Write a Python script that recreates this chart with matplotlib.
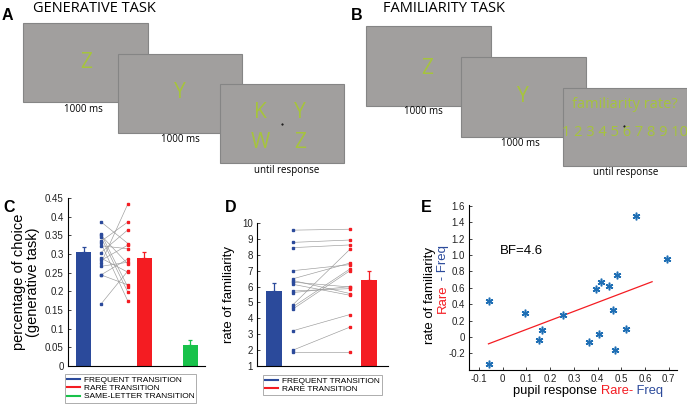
import numpy as np
import matplotlib
matplotlib.use("Agg")
import matplotlib.pyplot as plt
from matplotlib.patches import Rectangle
from matplotlib.lines import Line2D

plt.rcParams['font.family'] = ['Liberation Sans', 'DejaVu Sans']

# Couleurs
BLEU = '#2b4a9b'
ROUGE = '#f41c22'
VERT = '#18c24a'
BLEU_E = '#1f6fb5'
GRIS_ECRAN = '#a19f9e'
LETTRE = '#a6c43c'
POLICE_SCHEMA = ['Open Sans', 'DejaVu Sans']

# Panel C : pourcentage de choix (tache generative)
c_labels = ['FREQUENT TRANSITION', 'RARE TRANSITION', 'SAME-LETTER TRANSITION']
c_moy = [0.305, 0.289, 0.055]
c_err = [0.013, 0.016, 0.015]
c_freq = [0.386, 0.354, 0.350, 0.345, 0.334, 0.329, 0.322, 0.304,
          0.289, 0.283, 0.275, 0.267, 0.244, 0.244, 0.166]
c_rare = [0.328, 0.211, 0.273, 0.197, 0.386, 0.173, 0.314, 0.365,
          0.251, 0.324, 0.435, 0.278, 0.287, 0.217, 0.255]

# Panel D : taux de familiarite
d_labels = ['FREQUENT TRANSITION', 'RARE TRANSITION']
d_moy = [5.75, 6.44]
d_err = [0.50, 0.52]
d_freq = [9.55, 8.78, 8.45, 7.00, 6.49, 6.38, 6.28, 6.14,
          5.72, 5.62, 4.86, 4.73, 4.59, 3.22, 2.00, 1.90]
d_rare = [9.61, 8.93, 8.62, 7.38, 7.48, 5.56, 5.97, 5.45,
          5.87, 6.00, 8.35, 7.11, 7.00, 4.24, 3.45, 1.90]

# Panel E : pupille vs familiarite (Rare - Freq)
e_pupil = [-0.059, -0.059, 0.095, 0.167, 0.152, 0.255, 0.363, 0.392, 0.405,
           0.415, 0.447, 0.464, 0.473, 0.481, 0.521, 0.563, 0.691]
e_fam = [0.44, -0.33, 0.294, 0.09, -0.033, 0.27, -0.06, 0.59, 0.04,
         0.67, 0.62, 0.327, -0.163, 0.75, 0.094, 1.47, 0.947]
e_fit_x = [-0.06, 0.63]

W, H = 687, 405
fig = plt.figure(figsize=(6.87, 4.05), dpi=100)


# Conversion pixels -> coordonnees figure
def boite(x0, y0, x1, y1):
    return [x0 / W, 1 - y1 / H, (x1 - x0) / W, (y1 - y0) / H]


# Axe de fond pour les schemas A et B
fond = fig.add_axes([0, 0, 1, 1])
fond.set_xlim(0, W)
fond.set_ylim(H, 0)
fond.axis('off')


def ecran(x0, y0, x1, y1):
    fond.add_patch(Rectangle((x0, y0), x1 - x0, y1 - y0, facecolor=GRIS_ECRAN,
                             edgecolor='#858585', linewidth=0.8))


def lettre(x, y, s, taille=15):
    fond.text(x, y, s, color=LETTRE, fontsize=taille, ha='center', va='center',
              family=POLICE_SCHEMA, fontweight='medium')


def legende(x, y, s):
    fond.text(x, y, s, fontsize=7, ha='center', va='center', family=POLICE_SCHEMA)


# Panel A
fond.text(7, 15, 'A', fontsize=11.5, fontweight='bold', ha='center', va='center')
fond.text(33, 9, 'GENERATIVE TASK', fontsize=10.5, ha='left', va='center',
          family=POLICE_SCHEMA)
ecran(23, 23, 148, 102)
ecran(118, 54, 242, 133)
ecran(220, 84, 344, 163)
lettre(86, 63, 'Z')
lettre(180, 92, 'Y')
lettre(260, 113, 'K')
lettre(300, 113, 'Y')
lettre(260, 142, 'W')
lettre(300, 142, 'Z')
fond.plot([282], [124], marker='.', color='k', markersize=1)
legende(83, 109, '1000 ms')
legende(180, 140, '1000 ms')
legende(287, 171, 'until response')

# Panel B
fond.text(357, 15, 'B', fontsize=11.5, fontweight='bold', ha='center', va='center')
fond.text(383, 9, 'FAMILIARITY TASK', fontsize=10.5, ha='left', va='center',
          family=POLICE_SCHEMA)
ecran(366, 26, 491, 106)
ecran(461, 57, 586, 137)
ecran(563, 88, 687, 166)
lettre(427, 68, 'Z')
lettre(523, 97, 'Y')
lettre(625, 104, 'familiarity rate?', taille=10.5)
lettre(625, 132, '1 2 3 4 5 6 7 8 9 10', taille=10.5)
fond.plot([624], [126], marker='.', color='k', markersize=1)
legende(423, 112, '1000 ms')
legende(520, 143, '1000 ms')
legende(626, 173, 'until response')

# Lettres des panels C, D, E
fond.text(9, 208, 'C', fontsize=11.5, fontweight='bold', ha='center', va='center')
fond.text(231, 208, 'D', fontsize=11.5, fontweight='bold', ha='center', va='center')
fond.text(426, 208, 'E', fontsize=11.5, fontweight='bold', ha='center', va='center')


def style_axe(ax):
    ax.spines['top'].set_visible(False)
    ax.spines['right'].set_visible(False)
    ax.spines['left'].set_linewidth(0.8)
    ax.spines['bottom'].set_linewidth(0.8)
    ax.tick_params(direction='in', length=2, width=0.6, labelsize=7, pad=3,
                   colors='#222222')
    ax.set_facecolor('none')


def paires(ax, x_a, x_b, va, vb):
    for a, b in zip(va, vb):
        ax.plot([x_a, x_b], [a, b], color='#9a9a9a', linewidth=0.45, zorder=1)
    ax.plot([x_a] * len(va), va, 's', color=BLEU, markersize=1.6, zorder=2)
    ax.plot([x_b] * len(vb), vb, 's', color=ROUGE, markersize=1.6, zorder=2)


# Panel C
axc = fig.add_axes(boite(68, 198, 205, 366))
style_axe(axc)
c_x = [0.78, 3.8, 6.1]
c_couleurs = [BLEU, ROUGE, VERT]
axc.bar(c_x, c_moy, width=0.75, color=c_couleurs, zorder=2)
for x, m, e, col in zip(c_x, c_moy, c_err, c_couleurs):
    axc.errorbar(x, m, yerr=[[0], [e]], color=col, capsize=1.5, linewidth=0.9,
                 capthick=0.9, zorder=2)
paires(axc, 1.65, 3.0, c_freq, c_rare)
axc.set_xlim(0, 6.85)
axc.set_ylim(0, 0.45)
axc.set_yticks(np.arange(0, 0.46, 0.05))
axc.set_yticklabels(['0', '0.05', '0.1', '0.15', '0.2', '0.25', '0.3', '0.35', '0.4', '0.45'])
axc.set_xticks([])
axc.set_ylabel('percentage of choice\n(generative task)', fontsize=10.5, labelpad=4,
               linespacing=1.0)
hc = [Line2D([], [], color=col, linewidth=1.5) for col in c_couleurs]
fig.legend(hc, c_labels, loc='upper left', bbox_to_anchor=(65 / W, 1 - 374 / H),
           fontsize=6, frameon=True, fancybox=False, edgecolor='#888888',
           handlelength=1.6, handletextpad=0.4, borderpad=0.25, labelspacing=0.05,
           borderaxespad=0).get_frame().set_linewidth(0.6)

# Panel D
axd = fig.add_axes(boite(257, 223, 388, 366))
style_axe(axd)
d_x = [0.835, 5.6]
d_couleurs = [BLEU, ROUGE]
axd.bar(d_x, [m - 1 for m in d_moy], bottom=1, width=0.8, color=d_couleurs, zorder=2)
for x, m, e, col in zip(d_x, d_moy, d_err, d_couleurs):
    axd.errorbar(x, m, yerr=[[0], [e]], color=col, capsize=1.5, linewidth=0.9,
                 capthick=0.9, zorder=2)
paires(axd, 1.8, 4.65, d_freq, d_rare)
axd.set_xlim(0, 6.55)
axd.set_ylim(1, 10)
axd.set_yticks(range(1, 11))
axd.set_xticks([])
axd.set_ylabel('rate of familiarity', fontsize=9.5, labelpad=5)
hd = [Line2D([], [], color=col, linewidth=1.5) for col in d_couleurs]
fig.legend(hd, d_labels, loc='upper left', bbox_to_anchor=(263 / W, 1 - 375 / H),
           fontsize=6, frameon=True, fancybox=False, edgecolor='#888888',
           handlelength=1.6, handletextpad=0.4, borderpad=0.25, labelspacing=0.05,
           borderaxespad=0).get_frame().set_linewidth(0.6)

# Panel E
axe = fig.add_axes(boite(469, 205, 677, 370))
style_axe(axe)
axe.plot(e_pupil, e_fam, linestyle='none', marker=(6, 2, 0), color=BLEU_E,
         markersize=5.5, markeredgewidth=1.1, zorder=3)
pente, orig = np.polyfit(e_pupil, e_fam, 1)
fx = np.array(e_fit_x)
axe.plot(fx, pente * fx + orig, color=ROUGE, linewidth=0.9, zorder=2)
axe.set_xlim(-0.142, 0.735)
axe.set_ylim(-0.404, 1.61)
axe.set_xticks(np.arange(-0.1, 0.71, 0.1))
axe.set_xticklabels(['-0.1', '0', '0.1', '0.2', '0.3', '0.4', '0.5', '0.6', '0.7'])
axe.set_yticks(np.arange(-0.2, 1.61, 0.2))
axe.set_yticklabels(['-0.2', '0', '0.2', '0.4', '0.6', '0.8', '1.0', '1.2', '1.4', '1.6'])
axe.text(-0.01, 1.05, 'BF=4.6', fontsize=9.5, ha='left', va='center')

# Etiquettes colorees du panel E
t1 = fond.text(513, 391, 'pupil response ', fontsize=9.3, ha='left', va='center')
t2 = fond.annotate('Rare-', xycoords=t1, xy=(1, 0), va='bottom', ha='left',
                   fontsize=9.3, color=ROUGE)
fond.annotate(' Freq', xycoords=t2, xy=(1, 0), va='bottom', ha='left',
              fontsize=9.3, color=BLEU)
fond.text(430, 295, 'rate of familiarity', fontsize=9.5, rotation=90,
          ha='center', va='center')
r1 = fond.text(443, 313, 'Rare', fontsize=9.5, rotation=90, ha='center',
               va='bottom', color=ROUGE)
fond.annotate(' - Freq', xycoords=r1, xy=(0.5, 1), va='bottom', ha='center',
              rotation=90, fontsize=9.5, color=BLEU)

fig.savefig('out.png', dpi=100)
